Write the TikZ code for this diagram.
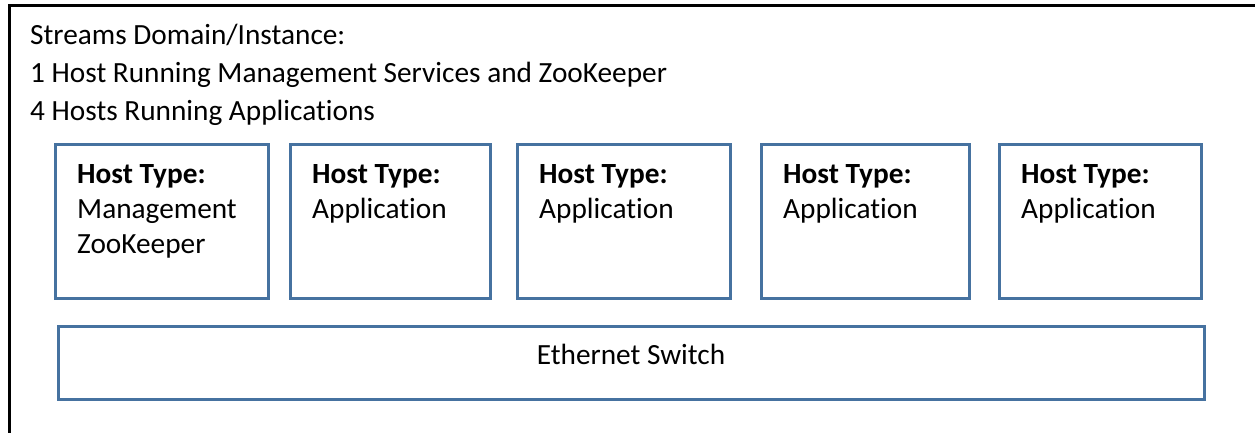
\documentclass[tikz,border=0pt]{standalone}
\usepackage{fontspec}
\setmainfont[Ligatures=CommonOff]{Carlito}
\definecolor{boxblue}{RGB}{70,114,160}
\begin{document}
\begin{tikzpicture}[x=1pt,y=-1pt,
  hostbox/.style={draw=boxblue,line width=3pt,fill=white,inner sep=0pt},
  maintxt/.style={anchor=base west,inner sep=0pt,font=\fontsize{29.3}{38}\selectfont},
  hosttxt/.style={anchor=base west,inner sep=0pt,font=\fontsize{29.3}{35}\selectfont}]
\useasboundingbox (0,0) rectangle (1255,432);
\clip (0,0) rectangle (1255,432);
\draw[line width=3pt,black] (9,440) -- (9,5) -- (1265,5) -- (1265,440) -- cycle;
\node[maintxt] (t1) at (30,44) {Streams Domain/Instance:};
\node[maintxt] (t2) at (30,82) {1 Host Running Management Services and ZooKeeper};
\node[maintxt] (t3) at (30,120) {4 Hosts Running Applications};
\node[hostbox,minimum width=213pt,minimum height=154pt] (h1) at (161.5,221) {};
\node[hostbox,minimum width=200pt,minimum height=154pt] (h2) at (390,221) {};
\node[hostbox,minimum width=213pt,minimum height=154pt] (h3) at (623.5,221) {};
\node[hostbox,minimum width=208pt,minimum height=154pt] (h4) at (865,221) {};
\node[hostbox,minimum width=202pt,minimum height=154pt] (h5) at (1100,221) {};
\node[hosttxt] (a1) at (77,183) {\textbf{Host Type:}};
\node[hosttxt] (b1) at (77,218) {Management};
\node[hosttxt] (c1) at (77,253) {ZooKeeper};
\node[hosttxt] (a2) at (312,183) {\textbf{Host Type:}};
\node[hosttxt] (b2) at (312,218) {Application};
\node[hosttxt] (a3) at (539,183) {\textbf{Host Type:}};
\node[hosttxt] (b3) at (539,218) {Application};
\node[hosttxt] (a4) at (783,183) {\textbf{Host Type:}};
\node[hosttxt] (b4) at (783,218) {Application};
\node[hosttxt] (a5) at (1021,183) {\textbf{Host Type:}};
\node[hosttxt] (b5) at (1021,218) {Application};
\node[hostbox,minimum width=1146pt,minimum height=73pt] (sw) at (631,362.5) {};
\node[anchor=base,inner sep=0pt,font=\fontsize{29.3}{35}\selectfont] (swt) at (631,364) {Ethernet Switch};
\end{tikzpicture}
\end{document}
